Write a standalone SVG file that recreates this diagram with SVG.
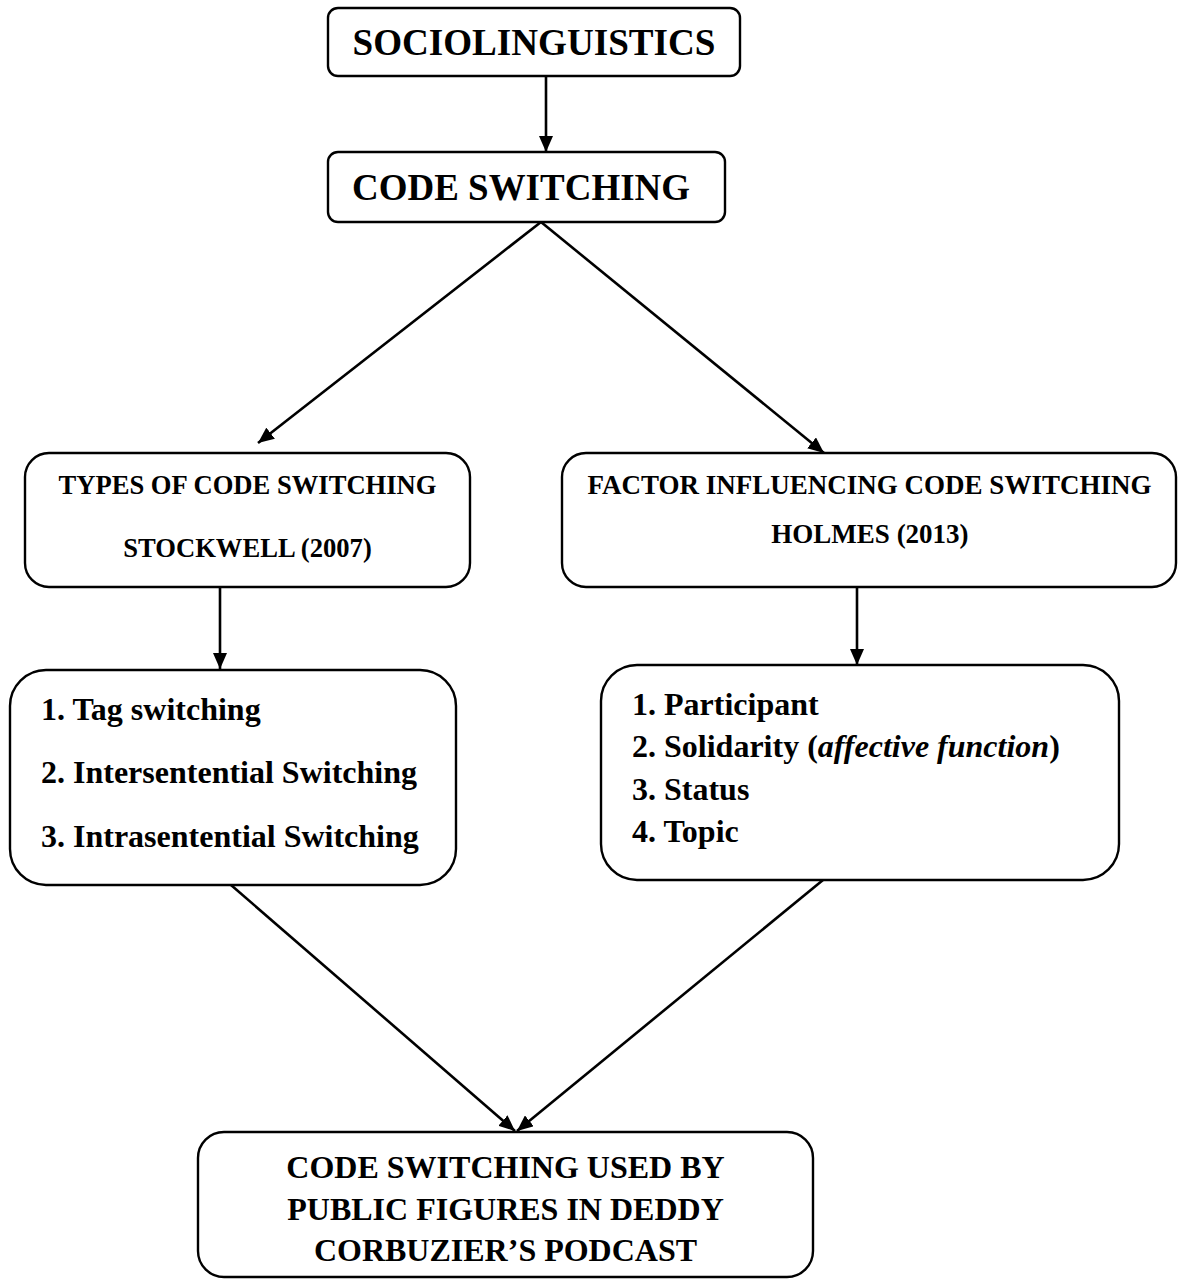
<svg xmlns="http://www.w3.org/2000/svg" width="1179" height="1279" viewBox="0 0 1179 1279">
<style>
.box{fill:#fff;stroke:#000;stroke-width:2.4}
.t{font-family:"Liberation Serif","Times New Roman",serif;font-weight:bold;fill:#000}
.c{text-anchor:middle}
.conn{stroke:#000;stroke-width:2.6;fill:none;marker-end:url(#ah)}
</style>
<defs>
<marker id="ah" viewBox="0 0 16 14" refX="16" refY="7" markerWidth="16" markerHeight="14" markerUnits="userSpaceOnUse" orient="auto">
<path d="M0,0 L16,7 L0,14 Z" fill="#000"/>
</marker>
</defs>
<rect width="1179" height="1279" fill="#fff"/>
<g id="connectors">
<line class="conn" x1="546" y1="76" x2="546" y2="152"/>
<line class="conn" x1="541" y1="222" x2="258" y2="443"/>
<line class="conn" x1="541" y1="222" x2="824" y2="453"/>
<line class="conn" x1="220" y1="587" x2="220" y2="669"/>
<line class="conn" x1="857" y1="587" x2="857" y2="665"/>
<line class="conn" x1="231" y1="885" x2="515" y2="1131"/>
<line class="conn" x1="823" y1="880" x2="517" y2="1131"/>
</g>
<g id="sociolinguistics">
<rect class="box" x="328" y="8" width="412" height="68" rx="10"/>
<text class="t c" x="534" y="55" font-size="37" textLength="363" lengthAdjust="spacingAndGlyphs">SOCIOLINGUISTICS</text>
</g>
<g id="code-switching">
<rect class="box" x="328" y="152" width="397" height="70" rx="10"/>
<text class="t c" x="521" y="200" font-size="38" textLength="338" lengthAdjust="spacingAndGlyphs">CODE SWITCHING</text>
</g>
<g id="types">
<rect class="box" x="25" y="453" width="445" height="134" rx="24"/>
<text class="t c" x="247.5" y="494" font-size="26.6">TYPES OF CODE SWITCHING</text>
<text class="t c" x="247.5" y="557" font-size="26.6">STOCKWELL (2007)</text>
</g>
<g id="factor">
<rect class="box" x="562" y="453" width="614" height="134" rx="24"/>
<text class="t c" x="869.5" y="494" font-size="27">FACTOR INFLUENCING CODE SWITCHING</text>
<text class="t c" x="870" y="543" font-size="27">HOLMES (2013)</text>
</g>
<g id="types-list">
<rect class="box" x="10" y="670" width="446" height="215" rx="36"/>
<text class="t" x="41" y="720" font-size="32">1. Tag switching</text>
<text class="t" x="41" y="783" font-size="32">2. Intersentential Switching</text>
<text class="t" x="41" y="847" font-size="32">3. Intrasentential Switching</text>
</g>
<g id="factor-list">
<rect class="box" x="601" y="665" width="518" height="215" rx="36"/>
<text class="t" x="632" y="715" font-size="32">1. Participant</text>
<text class="t" x="632" y="757" font-size="32">2. Solidarity (<tspan font-style="italic">affective function</tspan>)</text>
<text class="t" x="632" y="800" font-size="32">3. Status</text>
<text class="t" x="632" y="842" font-size="32">4. Topic</text>
</g>
<g id="result">
<rect class="box" x="198" y="1132" width="615" height="145" rx="26"/>
<text class="t c" x="505.5" y="1178" font-size="32">CODE SWITCHING USED BY</text>
<text class="t c" x="505.5" y="1220" font-size="32">PUBLIC FIGURES IN DEDDY</text>
<text class="t c" x="505.5" y="1261" font-size="32">CORBUZIER’S PODCAST</text>
</g>
</svg>
